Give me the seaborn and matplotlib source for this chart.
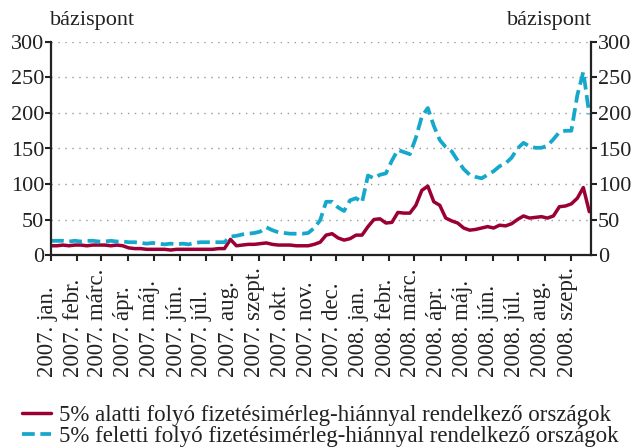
import pandas as pd
import matplotlib
matplotlib.use("Agg")
import matplotlib.pyplot as plt
from matplotlib.transforms import ScaledTranslation
import seaborn as sns

sns.set_style("white")
plt.rcParams['font.family'] = ['Liberation Serif', 'DejaVu Serif']

# weekly readings, starting 2007-01-01
below_5 = [13, 13, 14, 13, 14, 14, 13, 14, 14, 14, 13, 14, 13,
           10, 9, 9, 8, 8, 8, 8, 7, 8, 8, 8, 8, 8, 8, 8, 9, 9,
           22, 13, 14, 15, 15, 16, 17, 15, 14, 14, 14, 13, 13, 13,
           15, 18, 28, 30, 24, 21, 23, 28, 28, 40, 50, 51, 45, 46,
           60, 59, 59, 70, 91, 97, 75, 70, 52, 48, 45, 38, 35, 36,
           38, 40, 38, 42, 41, 44, 50, 55, 52, 53, 54, 52, 55, 68,
           69, 72, 80, 95, 61]
above_5 = [20, 20, 20, 19, 20, 19, 20, 20, 19, 19, 20, 19, 19,
           18, 18, 17, 16, 17, 16, 15, 16, 15, 16, 15, 17, 18, 18, 18, 18, 18,
           26, 27, 29, 30, 31, 33, 39, 35, 32, 31, 30, 30, 30, 31,
           38, 49, 75, 75, 67, 62, 77, 80, 74, 112, 108, 113, 115, 133,
           148, 145, 142, 165, 195, 207, 182, 162, 152, 146, 133, 121, 113, 110,
           108, 113, 118, 125, 129, 137, 150, 158, 153, 151, 151, 154, 163, 173,
           175, 175, 225, 258, 198]

month_labels = ['2007. jan.', '2007. febr.', '2007. márc.', '2007. ápr.', '2007. máj.',
                '2007. jún.', '2007. júl.', '2007. aug.', '2007. szept.', '2007. okt.',
                '2007. nov.', '2007. dec.', '2008. jan.', '2008. febr.', '2008. márc.',
                '2008. ápr.', '2008. máj.', '2008. jún.', '2008. júl.', '2008. aug.',
                '2008. szept.']
series_names = ['5% alatti folyó fizetésimérleg-hiánnyal rendelkező országok',
                '5% feletti folyó fizetésimérleg-hiánnyal rendelkező országok']

df = pd.DataFrame({'date': pd.date_range('2007-01-01', periods=len(below_5), freq='7D'),
                   'below': below_5, 'above': above_5})

red = '#9B0034'
cyan = '#16A8CB'
ink = '#222222'

fig = plt.figure(figsize=(6.35, 4.48), dpi=100)
ax = fig.add_axes([51/635, 1 - 255/448, 540/635, 213/448])

sns.lineplot(data=df, x='date', y='below', ax=ax, color=red, lw=2.5, label=series_names[0])
sns.lineplot(data=df, x='date', y='above', ax=ax, color=cyan, lw=2.7, label=series_names[1])
ax.lines[1].set_dashes((3.4, 1.5))

ax.set_ylim(0, 300)
ax.set_yticks(range(0, 301, 50))
ax.set_xlim(pd.Timestamp('2007-01-01'), pd.Timestamp('2008-09-24'))
ax.set_xticks(pd.date_range('2007-01-01', '2008-09-01', freq='MS'))
ax.set_xticklabels(month_labels, rotation=90, ha='center', va='bottom')
ax.set_xlabel('')
ax.set_ylabel('')

ax.yaxis.grid(True, linestyle=(0, (1, 4)), color='#999999', lw=1)
ax.xaxis.grid(False)
for s in ['left', 'right', 'bottom']:
    ax.spines[s].set_linewidth(1.6)
    ax.spines[s].set_color(ink)
ax.spines['top'].set_visible(False)
ax.tick_params(axis='both', direction='out', length=4, width=1.5, colors=ink)
ax.tick_params(axis='y', right=True, labelright=True, left=True, labelsize=16, pad=1)
ax.tick_params(axis='x', bottom=True, labelsize=16.5, pad=84)
for lbl in ax.get_xticklabels():
    lbl.set_transform(lbl.get_transform() + ScaledTranslation(-4/100, 0, fig.dpi_scale_trans))

fig.text(50/635, 1 - 21/448, 'bázispont', fontsize=16, ha='left', va='center', color=ink)
fig.text(592/635, 1 - 21/448, 'bázispont', fontsize=16, ha='right', va='center', color=ink)

handles, labels = ax.get_legend_handles_labels()
ax.get_legend().remove()
fig.legend(handles, labels, loc='center left', bbox_to_anchor=(22/635, 1 - 426/448),
           frameon=False, fontsize=16.5, handlelength=1.25, handletextpad=0.35,
           labelspacing=0.0, borderpad=0, borderaxespad=0, labelcolor=ink)

fig.savefig('out.png', dpi=100)
